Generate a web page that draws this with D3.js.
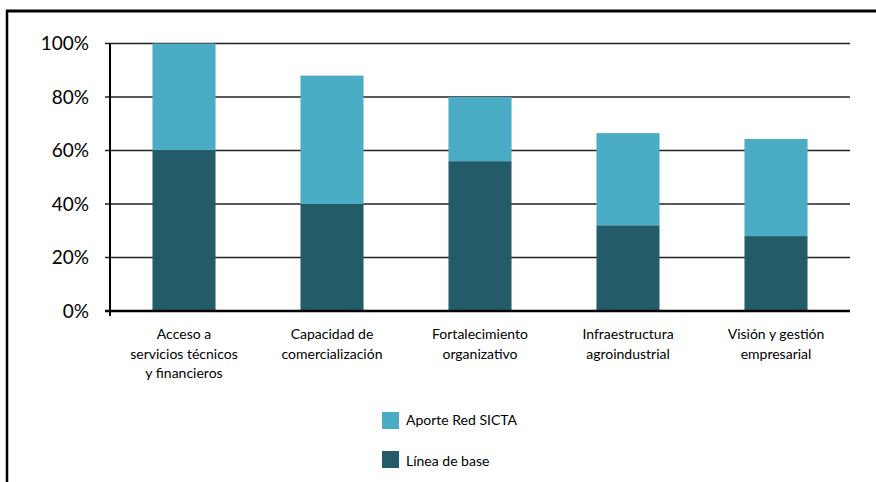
<!DOCTYPE html>
<html>
<head>
<meta charset="utf-8">
<script src="https://cdn.jsdelivr.net/npm/d3@7"></script>
<style>
  body { margin: 0; background: #fff; }
  text { font-family: Lato, "Open Sans", sans-serif; fill: #000; }
</style>
</head>
<body>
<div id="chart"></div>
<script>
var categories = [
    ["Acceso a", "servicios técnicos", "y financieros"],
    ["Capacidad de", "comercialización"],
    ["Fortalecimiento", "organizativo"],
    ["Infraestructura", "agroindustrial"],
    ["Visión y gestión", "empresarial"]
];
var lineaBase = [60, 40, 56, 32, 28];
var aporteRed = [40, 48, 24, 34.5, 36.3];
var yTicks = [0, 20, 40, 60, 80, 100];
var seriesNames = ["Aporte Red SICTA", "Línea de base"];
var seriesColors = ["#4bacc6", "#235b69"];

var width = 876, height = 482;
var plotLeft = 110, plotRight = 850, plotTop = 43.5, plotBottom = 311;

var svg = d3.select("#chart").append("svg")
    .attr("width", width)
    .attr("height", height);

// outer frame (only top and left edges visible)
svg.append("line").attr("x1", 6).attr("x2", width).attr("y1", 11).attr("y2", 11)
    .attr("stroke", "#000").attr("stroke-width", 3);
svg.append("line").attr("x1", 7).attr("x2", 7).attr("y1", 10).attr("y2", height)
    .attr("stroke", "#000").attr("stroke-width", 2.5);

var x = d3.scaleBand()
    .domain(d3.range(categories.length))
    .range([plotLeft, plotRight])
    .paddingInner(0.574)
    .paddingOuter(0.287);

var y = d3.scaleLinear().domain([0, 100]).range([plotBottom, plotTop]);

// gridlines
svg.append("g")
    .selectAll("line")
    .data(yTicks.filter(d => d > 0))
    .enter().append("line")
    .attr("x1", plotLeft - 5).attr("x2", plotRight)
    .attr("y1", d => y(d)).attr("y2", d => y(d))
    .attr("stroke", "#222").attr("stroke-width", 1.5);

var stacked = lineaBase.map((b, i) => ({i: i, base: b, top: b + aporteRed[i]}));

svg.append("g").selectAll("rect")
    .data(stacked)
    .enter().append("rect")
    .attr("x", d => x(d.i))
    .attr("width", x.bandwidth())
    .attr("y", d => y(d.top))
    .attr("height", d => y(d.base) - y(d.top))
    .attr("fill", seriesColors[0]);

svg.append("g").selectAll("rect")
    .data(stacked)
    .enter().append("rect")
    .attr("x", d => x(d.i))
    .attr("width", x.bandwidth())
    .attr("y", d => y(d.base))
    .attr("height", d => y(0) - y(d.base))
    .attr("fill", seriesColors[1]);

// axes lines
svg.append("line").attr("x1", plotLeft).attr("x2", plotLeft).attr("y1", plotTop).attr("y2", plotBottom + 5)
    .attr("stroke", "#000").attr("stroke-width", 2);
svg.append("line").attr("x1", plotLeft - 5).attr("x2", plotRight).attr("y1", plotBottom).attr("y2", plotBottom)
    .attr("stroke", "#000").attr("stroke-width", 2.5);

// y tick labels
svg.append("g").selectAll("text")
    .data(yTicks)
    .enter().append("text")
    .attr("x", 89)
    .attr("y", d => y(d) + 6.5)
    .attr("text-anchor", "end")
    .style("font-size", "19px")
    .text(d => d + "%");

// category labels
var catG = svg.append("g").selectAll("text")
    .data(categories)
    .enter().append("text")
    .attr("text-anchor", "middle")
    .style("font-size", "14px")
    .attr("transform", (d, i) => "translate(" + (x(i) + x.bandwidth() / 2) + ",339)");

catG.selectAll("tspan")
    .data(d => d)
    .enter().append("tspan")
    .attr("x", 0)
    .attr("y", (d, i) => i * 19.5)
    .text(d => d);

// legend
var legend = svg.append("g").selectAll("g")
    .data(seriesNames)
    .enter().append("g")
    .attr("transform", (d, i) => "translate(382," + (412 + i * 39) + ")");

legend.append("rect")
    .attr("width", 17).attr("height", 17)
    .attr("fill", (d, i) => seriesColors[i]);

legend.append("text")
    .attr("x", 24)
    .attr("y", (d, i) => i == 0 ? 13 : 15)
    .style("font-size", "14px")
    .text(d => d);
</script>
</body>
</html>
